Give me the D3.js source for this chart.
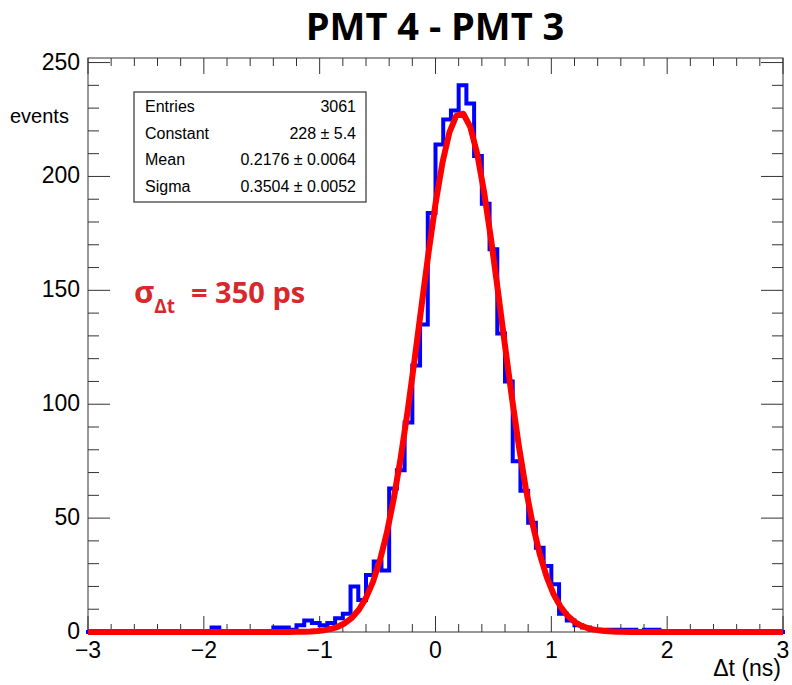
<!DOCTYPE html>
<html>
<head>
<meta charset="utf-8">
<script src="https://cdn.jsdelivr.net/npm/d3@7"></script>
<style>
  body { margin: 0; background: #fff; }
  text { font-family: "Liberation Sans", Arial, sans-serif; }
</style>
</head>
<body>
<div id="chart"></div>
<script>
// histogram: 90 bins from -3 to 3 ns
let xMin = -3, xMax = 3, nBins = 90
let counts = [
  0,0,0,0,0,0,0,0,0,0,0,0,0,0,0,0,
  2,0,0,0,0,0,0,0,
  2,2,1,3,5,4,3,4,6,8,
  20,14,25,31,27,63,71,92,117,135,
  184,214,225,229,240,232,209,188,168,131,
  110,75,62,48,37,29,21,8,5,3,
  2,1,1,1,1,1,1,0,1,1,
  0,0,0,0,0,0,0,0,0,0,0,0,0,0,0,0
]

// fit (gaus) parameters from the stats box
let statNames = ["Entries", "Constant", "Mean", "Sigma"]
let statValues = ["3061", "228 \u00b1 5.4", "0.2176 \u00b1 0.0064", "0.3504 \u00b1 0.0052"]
let fitConst = 228, fitMean = 0.2176, fitSigma = 0.3504

let xTicks = [-3, -2, -1, 0, 1, 2, 3]
let yTicks = [0, 50, 100, 150, 200, 250]

let width = 792, height = 685
let svg = d3.select("#chart")
  .append("svg")
  .attr("width", width)
  .attr("height", height)

let x = d3.scaleLinear().domain([xMin, xMax]).range([88, 783])
let y = d3.scaleLinear().domain([0, 252]).range([632, 58])

//title
svg.append("text")
  .attr("x", 435).attr("y", 40)
  .attr("text-anchor", "middle")
  .style("font-family", "'Open Sans', sans-serif")
  .style("font-weight", "bold")
  .style("font-size", "38px")
  .text("PMT 4 - PMT 3")

//frame
svg.append("rect")
  .attr("x", x(xMin)).attr("y", y(252))
  .attr("width", x(xMax) - x(xMin))
  .attr("height", y(0) - y(252))
  .attr("fill", "none")
  .attr("stroke", "#333")
  .attr("stroke-width", 1)

//ticks, major and minor, on all four sides
let xMinor = d3.range(-3, 3.001, 0.2)
let yMinor = d3.range(0, 252, 10)
let tickG = svg.append("g").attr("stroke", "#333").attr("stroke-width", 1)
xMinor.forEach(v => {
  let major = Math.abs(v - Math.round(v)) < 1e-6
  let len = major ? 16 : 8
  tickG.append("line").attr("x1", x(v)).attr("x2", x(v)).attr("y1", y(0)).attr("y2", y(0) - len)
  tickG.append("line").attr("x1", x(v)).attr("x2", x(v)).attr("y1", y(252)).attr("y2", y(252) + len)
})
yMinor.forEach(v => {
  let major = v % 50 == 0
  let len = major ? 22 : 11
  tickG.append("line").attr("x1", x(xMin)).attr("x2", x(xMin) + len).attr("y1", y(v)).attr("y2", y(v))
  tickG.append("line").attr("x1", x(xMax)).attr("x2", x(xMax) - len).attr("y1", y(v)).attr("y2", y(v))
})

//tick labels
svg.selectAll(".xlab")
  .data(xTicks)
  .enter()
  .append("text")
  .attr("x", d => x(d))
  .attr("y", 658)
  .attr("text-anchor", "middle")
  .style("font-size", "23px")
  .text(d => d < 0 ? "\u2212" + Math.abs(d) : d)

svg.selectAll(".ylab")
  .data(yTicks)
  .enter()
  .append("text")
  .attr("x", 80)
  .attr("y", d => y(d) + 7)
  .attr("text-anchor", "end")
  .style("font-size", "23px")
  .text(d => d)

//axis titles
svg.append("text")
  .attr("x", 781).attr("y", 676)
  .attr("text-anchor", "end")
  .style("font-size", "23px")
  .text("\u0394t (ns)")

svg.append("text")
  .attr("x", 10).attr("y", 123)
  .style("font-size", "20px")
  .text("events")

//histogram outline
let binW = (xMax - xMin) / nBins
let pts = []
counts.forEach((c, i) => {
  pts.push([xMin + i * binW, c])
  pts.push([xMin + (i + 1) * binW, c])
})
let line = d3.line().x(d => x(d[0])).y(d => y(d[1]))
svg.append("path")
  .attr("d", line(pts))
  .attr("fill", "none")
  .attr("stroke", "#0000ff")
  .attr("stroke-width", 4)
  .attr("stroke-linecap", "square")

//fit function, drawn with 100 points like root does
let fitPts = d3.range(0, 101).map(i => {
  let t = xMin + i * (xMax - xMin) / 100
  return [t, fitConst * Math.exp(-0.5 * Math.pow((t - fitMean) / fitSigma, 2))]
})
svg.append("path")
  .attr("d", line(fitPts))
  .attr("fill", "none")
  .attr("stroke", "#ff0000")
  .attr("stroke-width", 6)
  .attr("stroke-linejoin", "round")

//stats box
svg.append("rect")
  .attr("x", 134).attr("y", 92)
  .attr("width", 232).attr("height", 110)
  .attr("fill", "#fff")
  .attr("stroke", "#333")
  .attr("stroke-width", 1.2)

statNames.forEach((n, i) => {
  svg.append("text")
    .attr("x", 145).attr("y", 112 + i * 26.7)
    .style("font-size", "16px")
    .text(n)
  svg.append("text")
    .attr("x", 356).attr("y", 112 + i * 26.7)
    .attr("text-anchor", "end")
    .style("font-size", "16px")
    .text(statValues[i])
})

//sigma annotation
let ann = svg.append("text")
  .attr("x", 134).attr("y", 303)
  .attr("fill", "#d9282b")
  .style("font-family", "'Open Sans', sans-serif")
  .style("font-weight", "bold")
  .style("font-size", "31px")
ann.append("tspan").text("\u03c3")
ann.append("tspan").attr("dy", 10).style("font-size", "19px").text("\u0394t")
ann.append("tspan").attr("x", 191).attr("dy", -10).style("font-size", "29px").text("= 350 ps")
</script>
</body>
</html>
